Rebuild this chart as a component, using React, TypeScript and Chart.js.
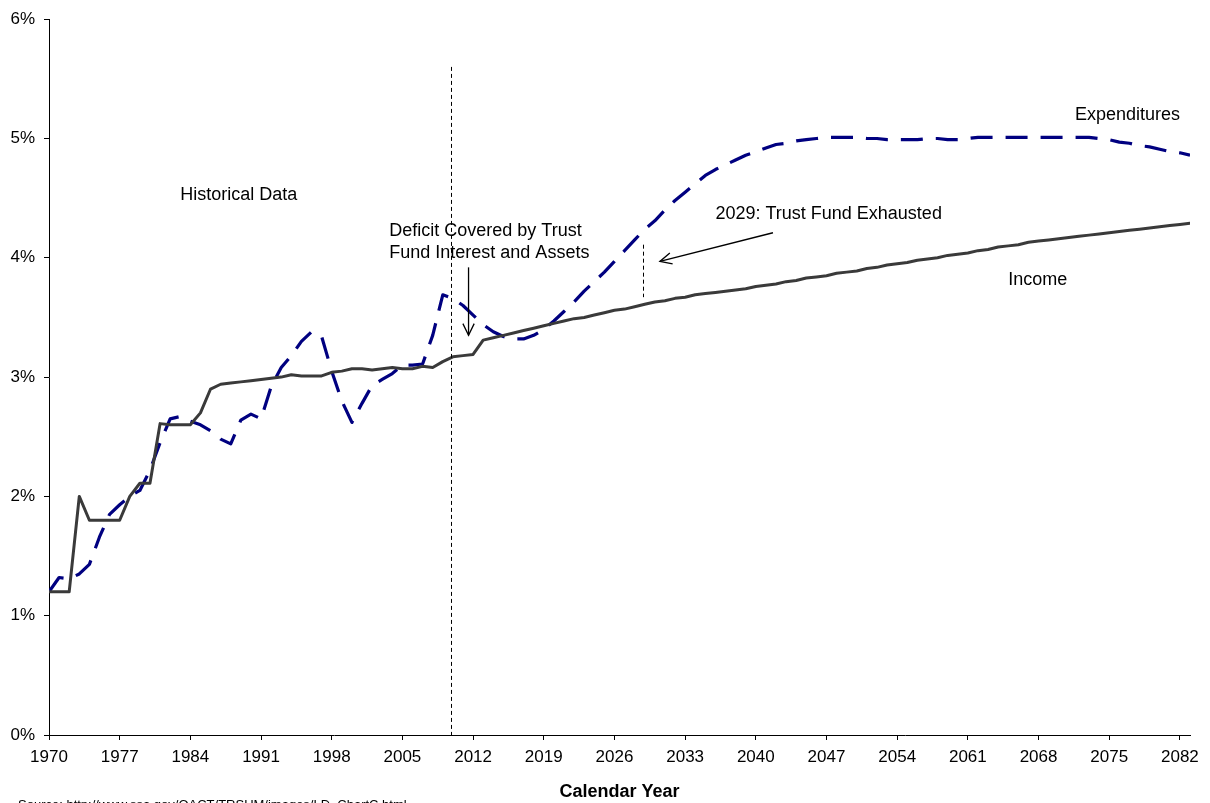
import { useEffect, useRef } from "react";
import { Chart, registerables } from "chart.js";

Chart.register(...registerables);

const YEARS: number[] = [
  1970, 1971, 1972, 1973, 1974, 1975, 1976, 1977, 1978, 1979,
  1980, 1981, 1982, 1983, 1984, 1985, 1986, 1987, 1988, 1989,
  1990, 1991, 1992, 1993, 1994, 1995, 1996, 1997, 1998, 1999,
  2000, 2001, 2002, 2003, 2004, 2005, 2006, 2007, 2008, 2009,
  2010, 2011, 2012, 2013, 2014, 2015, 2016, 2017, 2018, 2019,
  2020, 2021, 2022, 2023, 2024, 2025, 2026, 2027, 2028, 2029,
  2030, 2031, 2032, 2033, 2034, 2035, 2036, 2037, 2038, 2039,
  2040, 2041, 2042, 2043, 2044, 2045, 2046, 2047, 2048, 2049,
  2050, 2051, 2052, 2053, 2054, 2055, 2056, 2057, 2058, 2059,
  2060, 2061, 2062, 2063, 2064, 2065, 2066, 2067, 2068, 2069,
  2070, 2071, 2072, 2073, 2074, 2075, 2076, 2077, 2078, 2079,
  2080, 2081, 2082, 2083,
];

// Income (percent)
const INCOME: number[] = [
  1.20, 1.20, 1.20, 2.00, 1.80, 1.80, 1.80, 1.80, 2.00, 2.11,
  2.11, 2.61, 2.60, 2.60, 2.60, 2.70, 2.90, 2.94, 2.95, 2.96,
  2.97, 2.98, 2.99, 3.00, 3.02, 3.01, 3.01, 3.01, 3.04, 3.05,
  3.07, 3.07, 3.06, 3.07, 3.08, 3.07, 3.07, 3.09, 3.08, 3.13,
  3.17, 3.18, 3.19, 3.31, 3.33, 3.35, 3.37, 3.39, 3.41, 3.43,
  3.45, 3.47, 3.49, 3.50, 3.52, 3.54, 3.56, 3.57, 3.59, 3.61,
  3.63, 3.64, 3.66, 3.67, 3.69, 3.70, 3.71, 3.72, 3.73, 3.74,
  3.76, 3.77, 3.78, 3.80, 3.81, 3.83, 3.84, 3.85, 3.87, 3.88,
  3.89, 3.91, 3.92, 3.94, 3.95, 3.96, 3.98, 3.99, 4.00, 4.02,
  4.03, 4.04, 4.06, 4.07, 4.09, 4.10, 4.11, 4.13, 4.14, 4.15,
  4.16, 4.17, 4.18, 4.19, 4.20, 4.21, 4.22, 4.23, 4.24, 4.25,
  4.26, 4.27, 4.28, 4.29,
];

// Expenditures (percent)
const EXPENDITURES: number[] = [
  1.20, 1.32, 1.31, 1.35, 1.43, 1.66, 1.85, 1.93, 2.00, 2.05,
  2.22, 2.45, 2.65, 2.67, 2.63, 2.60, 2.55, 2.48, 2.44, 2.64,
  2.69, 2.65, 2.92, 3.08, 3.18, 3.30, 3.38, 3.34, 3.05, 2.80,
  2.62, 2.78, 2.93, 2.98, 3.03, 3.10, 3.10, 3.11, 3.35, 3.69,
  3.66, 3.60, 3.52, 3.44, 3.38, 3.34, 3.32, 3.32, 3.35, 3.40,
  3.47, 3.55, 3.63, 3.72, 3.80, 3.88, 3.97, 4.06, 4.15, 4.24,
  4.31, 4.40, 4.48, 4.55, 4.62, 4.69, 4.74, 4.78, 4.82, 4.86,
  4.89, 4.92, 4.95, 4.96, 4.98, 4.99, 5.00, 5.01, 5.01, 5.01,
  5.01, 5.00, 5.00, 4.99, 4.99, 4.99, 4.99, 5.00, 5.00, 4.99,
  4.99, 5.00, 5.01, 5.01, 5.01, 5.01, 5.01, 5.01, 5.01, 5.01,
  5.01, 5.01, 5.01, 5.01, 5.00, 4.99, 4.97, 4.96, 4.94, 4.93,
  4.91, 4.89, 4.88, 4.86,
];

const X_TICKS: number[] = [
  1970, 1977, 1984, 1991, 1998, 2005, 2012, 2019, 2026, 2033,
  2040, 2047, 2054, 2061, 2068, 2075, 2082,
];

const X_TITLE = "Calendar Year";
const SOURCE_TEXT = "Source: http://www.ssa.gov/OACT/TRSUM/images/LD_ChartC.html";

// Annotations in data units (year, percent)
const TEXT_NOTES: { text: string; year: number; pct: number }[] = [
  { text: "Historical Data", year: 1983.0, pct: 4.525 },
  { text: "Deficit Covered by Trust", year: 2003.7, pct: 4.225 },
  { text: "Fund Interest and Assets", year: 2003.7, pct: 4.04 },
  { text: "2029: Trust Fund Exhausted", year: 2036.0, pct: 4.37 },
  { text: "Expenditures", year: 2071.6, pct: 5.2 },
  { text: "Income", year: 2065.0, pct: 3.81 },
];
const HISTORY_LINE = { year: 2009.8, top: 5.6, bottom: 0 };
const EXHAUST_MARK = { year: 2028.8, top: 4.11, bottom: 3.67 };
const ARROWS: { from: [number, number]; to: [number, number] }[] = [
  { from: [2011.55, 3.92], to: [2011.55, 3.35] },
  { from: [2041.7, 4.21], to: [2030.5, 3.97] },
];

const FONT_FAMILY = "Arial, 'Liberation Sans', Helvetica, sans-serif";

const notesPlugin = {
  id: "notes",
  afterDatasetsDraw(chart: any) {
    const { ctx } = chart;
    const xs = chart.scales.x;
    const ys = chart.scales.y;
    const px = (v: number) => xs.getPixelForValue(v);
    const py = (v: number) => ys.getPixelForValue(v);
    ctx.save();

    // dashed vertical markers
    ctx.strokeStyle = "#000";
    ctx.lineWidth = 1;
    ctx.setLineDash([4, 3]);
    for (const m of [HISTORY_LINE, EXHAUST_MARK]) {
      const x = Math.round(px(m.year)) + 0.5;
      ctx.beginPath();
      ctx.moveTo(x, py(m.top));
      ctx.lineTo(x, py(m.bottom));
      ctx.stroke();
    }
    ctx.setLineDash([]);

    // arrows
    ctx.lineWidth = 1.3;
    for (const a of ARROWS) {
      const x1 = px(a.from[0]);
      const y1 = py(a.from[1]);
      const x2 = px(a.to[0]);
      const y2 = py(a.to[1]);
      ctx.beginPath();
      ctx.moveTo(x1, y1);
      ctx.lineTo(x2, y2);
      ctx.stroke();
      const ang = Math.atan2(y2 - y1, x2 - x1);
      const len = 13;
      const spread = 0.45;
      ctx.beginPath();
      ctx.moveTo(x2 - len * Math.cos(ang - spread), y2 - len * Math.sin(ang - spread));
      ctx.lineTo(x2, y2);
      ctx.lineTo(x2 - len * Math.cos(ang + spread), y2 - len * Math.sin(ang + spread));
      ctx.stroke();
    }

    // text notes
    ctx.fillStyle = "#000";
    ctx.font = `18px ${FONT_FAMILY}`;
    ctx.textAlign = "left";
    ctx.textBaseline = "middle";
    for (const n of TEXT_NOTES) {
      ctx.fillText(n.text, px(n.year), py(n.pct));
    }

    // axis title
    ctx.font = `bold 18px ${FONT_FAMILY}`;
    ctx.textAlign = "center";
    ctx.fillText(X_TITLE, (chart.chartArea.left + chart.chartArea.right) / 2, 792);

    // source line (cut at the bottom edge)
    ctx.font = `13px ${FONT_FAMILY}`;
    ctx.textAlign = "left";
    ctx.textBaseline = "alphabetic";
    ctx.fillText(SOURCE_TEXT, 18, 809);

    ctx.restore();
  },
};

export default function App() {
  const canvasRef = useRef<HTMLCanvasElement | null>(null);

  useEffect(() => {
    const canvas = canvasRef.current;
    if (!canvas) return;
    const chart = new Chart(canvas, {
      type: "line",
      data: {
        datasets: [
          {
            label: "Income",
            data: YEARS.map((yr, i) => ({ x: yr, y: INCOME[i] })),
            borderColor: "#3a3a3a",
            borderWidth: 3,
            borderJoinStyle: "round",
            borderCapStyle: "round",
            pointRadius: 0,
            tension: 0,
            fill: false,
          },
          {
            label: "Expenditures",
            data: YEARS.map((yr, i) => ({ x: yr, y: EXPENDITURES[i] })),
            borderColor: "#000080",
            borderWidth: 3.2,
            borderDash: [22, 13],
            borderCapStyle: "butt",
            borderJoinStyle: "round",
            pointRadius: 0,
            tension: 0,
            fill: false,
          },
        ],
      },
      options: {
        responsive: false,
        animation: false,
        events: [],
        layout: { padding: { top: 15, right: 20, left: 0, bottom: 0 } },
        plugins: {
          legend: { display: false },
          tooltip: { enabled: false },
          title: { display: false },
        },
        scales: {
          x: {
            type: "linear",
            min: 1970,
            max: 2083,
            afterBuildTicks: (scale: any) => {
              scale.ticks = X_TICKS.map((v) => ({ value: v }));
            },
            afterFit: (scale: any) => {
              scale.height = 68;
            },
            grid: {
              drawOnChartArea: false,
              drawTicks: true,
              tickLength: 5,
              color: "#000",
            },
            border: { display: true, color: "#000", width: 1 },
            ticks: {
              autoSkip: false,
              maxRotation: 0,
              minRotation: 0,
              padding: 7,
              color: "#000",
              font: { family: FONT_FAMILY, size: 17 },
              callback: (v: any) => String(v),
            },
          },
          y: {
            type: "linear",
            min: 0,
            max: 6,
            afterFit: (scale: any) => {
              scale.width = 49;
            },
            grid: {
              drawOnChartArea: false,
              drawTicks: true,
              tickLength: 5,
              color: "#000",
            },
            border: { display: true, color: "#000", width: 1 },
            ticks: {
              stepSize: 1,
              padding: 9,
              color: "#000",
              font: { family: FONT_FAMILY, size: 17 },
              callback: (v: any) => `${v}%`,
            },
          },
        },
      },
      plugins: [notesPlugin],
    } as any);
    return () => chart.destroy();
  }, []);

  return (
    <div style={{ position: "absolute", left: 0, top: 0, width: 1210, height: 803, overflow: "hidden", background: "#fff" }}>
      <canvas ref={canvasRef} width={1210} height={803} style={{ display: "block", width: 1210, height: 803 }} />
    </div>
  );
}
